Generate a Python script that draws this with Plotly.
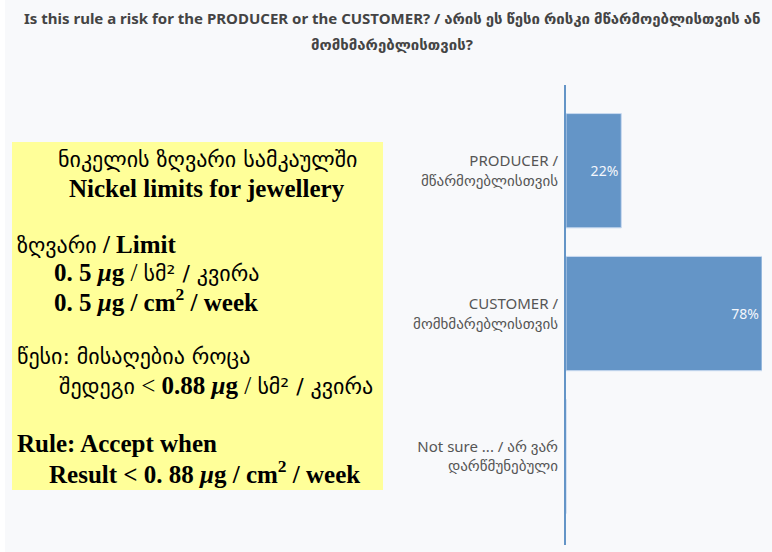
import plotly.graph_objects as go

# ---- data ----
categories = [
    "PRODUCER /<br>მწარმოებლისთვის",
    "CUSTOMER /<br>მომხმარებლისთვის",
    "Not sure ... / არ ვარ<br>დარწმუნებული",
]
values = [22, 78, 0]
value_labels = [f"{v}%" if v > 0 else "" for v in values]

title_lines = [
    "<b>Is this rule a risk for the PRODUCER or the CUSTOMER? / არის ეს წესი რისკი მწარმოებლისთვის ან</b>",
    "<b>მომხმარებლისთვის?</b>",
]

GEO = "<span style=\"font-family:'DejaVu Sans';font-size:22px\">{}</span>"

box_lines = [
    (GEO.format("ნიკელის ზღვარი სამკაულში"), "center", 207, 160),
    ("<b>Nickel limits for jewellery</b>", "center", 207, 188),
    (GEO.format("ზღვარი") + "<b> / Limit</b>", "left", 15, 244),
    ("<b>0. 5 <i>μ</i>g</b> / " + GEO.format("სმ² / კვირა"), "left", 52, 272),
    ("<b>0. 5 <i>μ</i>g / cm<sup>2</sup> / week</b>", "left", 52, 300),
    (GEO.format("წესი: მისაღებია როცა"), "left", 15, 357),
    (GEO.format("შედეგი") + " &lt; <b>0.88 <i>μ</i>g</b> / " + GEO.format("სმ² / კვირა"), "left", 57, 385),
    ("<b>Rule: Accept when</b>", "left", 15, 443),
    ("<b>Result &lt; 0. 88 <i>μ</i>g / cm<sup>2</sup> / week</b>", "left", 47, 472),
]

# ---- geometry (pixels) ----
W, H = 772, 552
PL, PR, PT, PB = 566, 762, 85, 545


def px_x(px):
    return (px - PL) / (PR - PL)


def px_y(py):
    return (PB - py) / (PB - PT)


BAR = "#6495c7"

fig = go.Figure(
    go.Bar(
        y=categories,
        x=values,
        orientation="h",
        marker=dict(color=BAR, line=dict(color="#c9daf0", width=1)),
        text=value_labels,
        textposition="inside",
        insidetextanchor="end",
        textfont=dict(family="Noto Sans, DejaVu Sans", size=14, color="#f4f7fc"),
        hoverinfo="skip",
    )
)

fig.update_layout(
    width=W,
    height=H,
    margin=dict(l=PL, r=W - PR, t=PT, b=H - PB, pad=0),
    paper_bgcolor="#f8f9fb",
    plot_bgcolor="#f8f9fb",
    showlegend=False,
    bargap=0.2,
    xaxis=dict(range=[0, 78], visible=False, fixedrange=True),
    yaxis=dict(
        autorange=False,
        range=[2.62, -0.6],
        showline=True,
        linecolor=BAR,
        linewidth=2,
        showgrid=False,
        zeroline=False,
        ticks="",
        ticklabelstandoff=3,
        tickfont=dict(family="Noto Sans, DejaVu Sans", size=15, color="#555555"),
    ),
    font=dict(family="Noto Sans, DejaVu Sans"),
)

shapes = [
    dict(type="rect", xref="paper", yref="paper",
         x0=px_x(0), x1=px_x(5), y0=px_y(H), y1=px_y(0),
         fillcolor="#ffffff", line=dict(width=0), layer="below"),
    dict(type="rect", xref="paper", yref="paper",
         x0=px_x(12), x1=px_x(383), y0=px_y(490), y1=px_y(142),
         fillcolor="#ffff99", line=dict(width=0), layer="below"),
]
fig.update_layout(shapes=shapes)

annotations = []
for i, line in enumerate(title_lines):
    annotations.append(dict(
        text=line, xref="paper", yref="paper",
        x=px_x(392), y=px_y(18 + 26 * i), xanchor="center", yanchor="middle",
        showarrow=False,
        font=dict(family="Noto Sans, DejaVu Sans", size=15, color="#444444"),
    ))

for text, anchor, px, py in box_lines:
    annotations.append(dict(
        text=text, xref="paper", yref="paper",
        x=px_x(px), y=px_y(py), xanchor=anchor, yanchor="middle",
        showarrow=False, align=anchor,
        font=dict(family="Liberation Serif, DejaVu Serif", size=25, color="#000000"),
    ))

fig.update_layout(annotations=annotations)

fig.write_html(
    "out.html",
    config={"displayModeBar": False},
    post_script="document.body.style.margin='0';document.body.style.overflow='hidden';",
)
